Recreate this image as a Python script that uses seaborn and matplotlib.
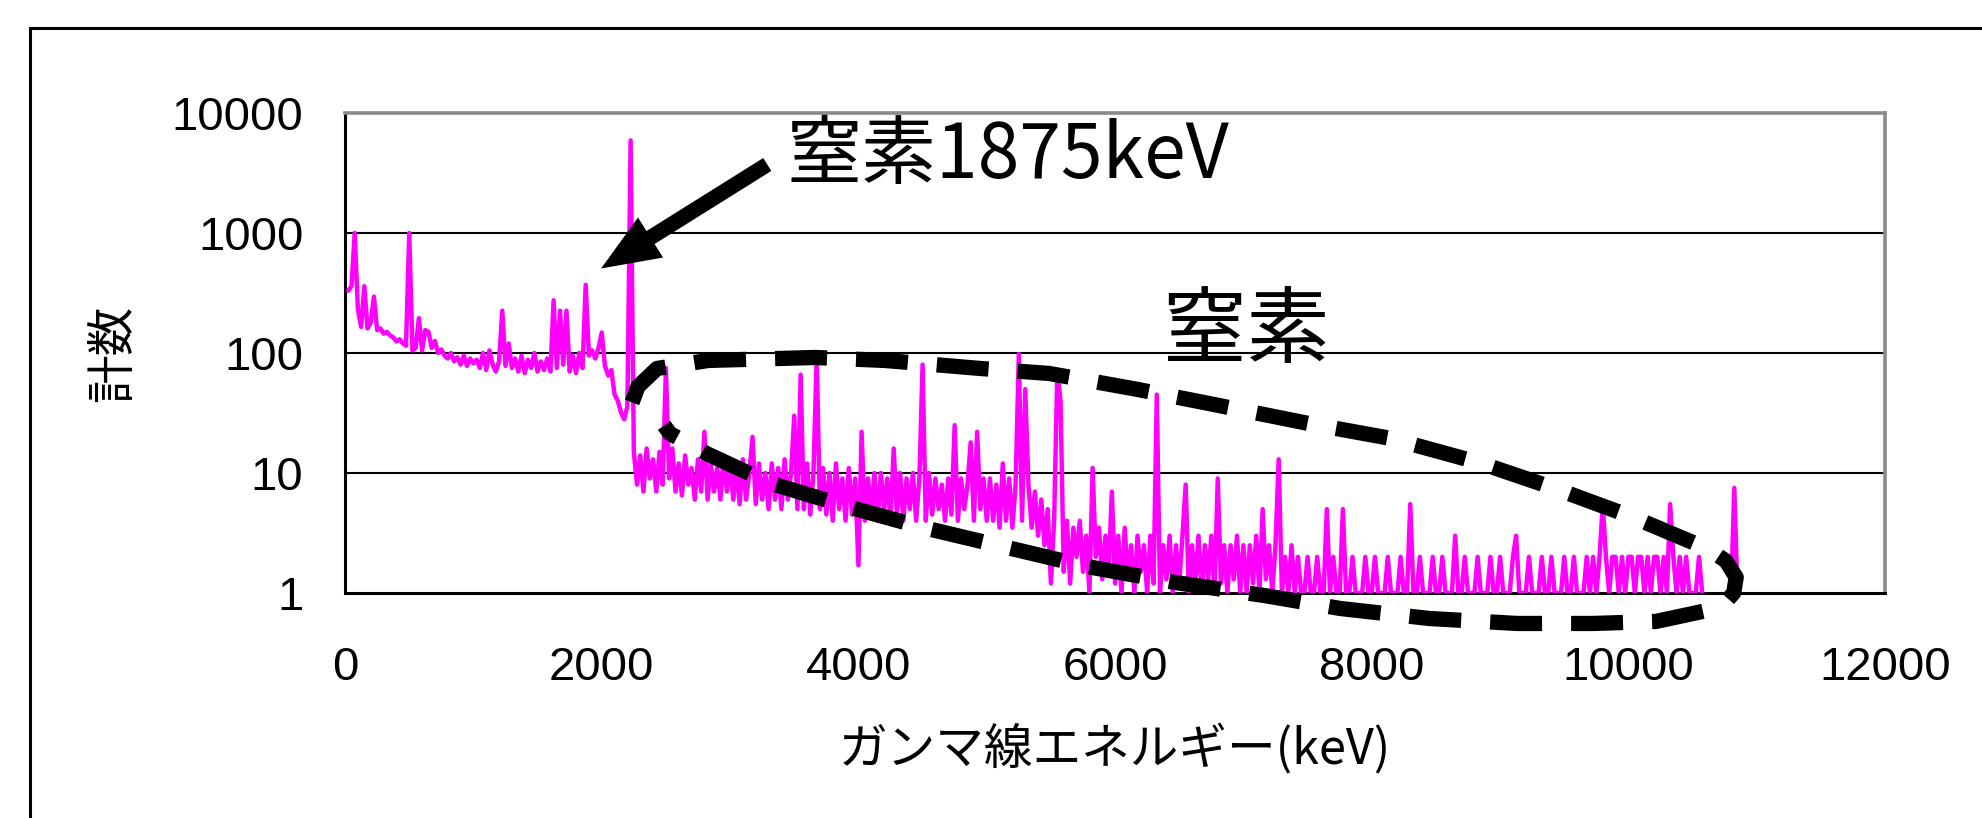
import numpy as np
import pandas as pd
import matplotlib
matplotlib.use("Agg")
import matplotlib.pyplot as plt
import seaborn as sns
from matplotlib.patches import Rectangle

nan = np.nan

# ---------------- data ----------------
channel_start_kev = 25
channel_width_kev = 25

counts = [
    # 25 .. 500 keV
    330, 360, 1000, 230, 165, 360, 160, 180, 295, 155, 160, 145, 150, 140, 135, 125, 130, 120, 115, 1000,
    # 525 .. 1000
    105, 110, 195, 105, 155, 150, 110, 126, 100, 107, 95, 90, 100, 85, 92, 80, 95, 78, 90, 82,
    # 1025 .. 1500
    88, 75, 100, 72, 105, 80, 70, 85, 225, 78, 120, 75, 90, 70, 95, 68, 88, 75, 100, 70,
    # 1525 .. 2000
    85, 72, 90, 70, 275, 75, 225, 80, 225, 70, 95, 68, 100, 75, 370, 95, 105, 90, 110, 148,
    # 2025 .. 2500
    78, 65, 72, 45, 40, 32, 28, 36, 5900, 15, 8, 14, 7, 16, 9, 13, 7, 15, 8, 75,
    # 2525 .. 3000
    9, 16, 7, 12, 6.5, 14, 8, 11, 6, 13, 7, 22, 6, 12, 7, 11, 6, 14, 7, 12,
    # 3025 .. 3500
    6, 11, 5.5, 13, 6, 10, 20, 5.5, 12, 6, 10, 5, 12, 6, 11, 5, 13, 6, 10, 30,
    # 3525 .. 4000
    5, 66, 5, 12, 4.5, 10, 95, 5, 11, 4.5, 10, 4, 12, 5, 9, 4, 11, 4.5, 9, 1.7,
    # 4025 .. 4500
    22, 4, 9, 4.5, 10, 4, 10, 5, 9, 4, 16, 4.5, 10, 4, 9, 5, 10, 4, 9, 80,
    # 4525 .. 5000
    4, 10, 4.5, 9, 5, 8, 4, 9, 4.5, 25, 4, 9, 5, 8, 18, 4, 22, 5, 9, 4,
    # 5025 .. 5500
    9, 4, 8, 3.5, 12, 4, 9, 3.5, 8, 98, 4, 50, 8, 3.5, 7, 3, 6, 2.5, 5, 1.2,
    # 5525 .. 6000
    4, 70, 40, 1.5, 4, 1.2, 3.5, 2, 4, 1.5, 3, 1, 11, 2, 3.5, 1.3, 3, 1.5, 7, 1.2,
    # 6025 .. 6500
    3, 1, 3.5, 1.3, 2.5, 1, 3, 1.5, 2.5, 1, 3, 1.2, 45, 1, 2.5, 1.3, 3, 1, 2.5, 1.2,
    # 6525 .. 7000
    3, 8, 1, 2.5, 1.2, 3, 1, 2.5, 1.3, 3, 1, 9, 1.2, 2.5, 1, 2.5, 1.3, 3, 1, 2.5,
    # 7025 .. 7500
    1, 2.5, 1.2, 3, 1, 5, 1.3, 2.5, 1, 2.5, 13, 1, 2, 1, 2.5, 1, 2, 1, 1, 2,
    # 7525 .. 8000
    1, 1, 2, 1, 1, 5, 1, 2, 1, 1, 5, 1, 1, 2, 1, 1, 1, 2, 1, 1,
    # 8025 .. 8500
    2, 1, 1, 1, 2, 1, 1, 1, 2, 1, 1, 5.5, 1, 1, 2, 1, 1, 1, 2, 1,
    # 8525 .. 9000
    1, 2, 1, 1, 1, 3, 1, 1, 2, 1, 1, 1, 2, 1, 1, 1, 2, 1, 1, 2,
    # 9025 .. 9500
    1, 1, 1, 2, 3, 1, 1, 1, 2, 1, 1, 1, 2, 1, 1, 2, 1, 1, 1, 2,
    # 9525 .. 10000
    1, 1, 2, 1, 1, 1, 2, 1, 2, 1, 2, 5.5, 2, 1, 2, 2, 1, 2, 1, 2,
    # 10025 .. 10500
    2, 1, 2, 2, 1, 2, 1, 2, 2, 1, 2, 1, 5.5, 2, 1, 2, 1, 2, 1, 1,
    # 10525 .. 10850
    1, 2, 1, nan, nan, nan, nan, nan, nan, nan, nan, 1, 7.5, 1,
]

# hand-drawn dashed outline around the nitrogen region (keV, counts)
outline_kev = [2236, 2283, 2431, 2829, 3662, 4208, 4948, 5486, 6179, 6771, 7504,
               8150, 8836, 9428, 10021, 10613, 10760, 10840, 10820, 10740, 10613,
               10215, 9724, 9132, 8447, 7753, 7161, 6475, 5782, 5189, 4504, 3912,
               3319, 2829, 2532, 2486]
outline_counts = [38.7, 52.6, 74.3, 86.6, 91.7, 86.6, 74.3, 67.5, 49.6, 37.2, 25.9,
                  19.4, 12.2, 7.43, 4.34, 2.35, 1.85, 1.35, 1.0, 0.8, 0.715,
                  0.579, 0.557, 0.557, 0.613, 0.743, 0.953, 1.22, 1.66, 2.35, 3.51,
                  5.26, 8.18, 14.3, 21.3, 24.9]

# arrow pointing at the 1875 keV line (keV, counts)
arrow_tip = (1995, 506)
arrow_tail = (3290, 3720)

peak_label = "窒素1875keV"
peak_label_pos = (3436, 4300)
region_label = "窒素"
region_label_pos = (7021, 151)

x_label = "ガンマ線エネルギー(keV)"
y_label = "計数"
x_ticks = [0, 2000, 4000, 6000, 8000, 10000, 12000]
y_ticks = [1, 10, 100, 1000, 10000]
y_tick_labels = ["1", "10", "100", "1000", "10000"]

# ---------------- figure ----------------
sns.set_theme(style="white")
plt.rcParams["font.family"] = ["Liberation Sans", "Noto Sans CJK JP", "DejaVu Sans"]
cjk = ["Noto Sans CJK JP", "DejaVu Sans"]

fig = plt.figure(figsize=(19.82, 8.18), dpi=100)
fig.patch.set_facecolor("white")
ax = fig.add_axes([0.1741, 0.2751, 0.9511 - 0.1741, 0.8619 - 0.2751])

energy_kev = channel_start_kev + channel_width_kev * np.arange(len(counts))
df = pd.DataFrame({"energy": energy_kev, "counts": counts})
df["segment"] = df["counts"].isna().cumsum()
df = df.dropna()

sns.lineplot(data=df, x="energy", y="counts", units="segment", estimator=None,
             sort=False, color="#FF00FF", linewidth=3.2, ax=ax, legend=False,
             zorder=3)

ax.set_yscale("log")
ax.set_xlim(0, 12000)
ax.set_ylim(1, 10000)
ax.set_xticks(x_ticks)
ax.set_xticklabels([str(t) for t in x_ticks])
ax.set_yticks(y_ticks)
ax.set_yticklabels(y_tick_labels)
ax.minorticks_off()
ax.yaxis.set_minor_locator(matplotlib.ticker.NullLocator())

ax.grid(False)
for yv in y_ticks[1:-1]:
    ax.axhline(yv, color="black", lw=1.5, zorder=1)

for side in ("left", "bottom"):
    ax.spines[side].set_color("black")
    ax.spines[side].set_linewidth(2.2)
for side in ("top", "right"):
    ax.spines[side].set_color("#8a8a8a")
    ax.spines[side].set_linewidth(2.6)

ax.tick_params(axis="x", direction="in", length=9, width=1.6, color="black",
               labelsize=34, pad=38, labelcolor="black", top=False)
ax.tick_params(axis="y", direction="in", length=9, width=1.6, color="black",
               labelsize=34, pad=30, labelcolor="black", right=False)

ax.set_xlabel(x_label, fontsize=35, family=cjk, labelpad=24, color="black")
ax.set_ylabel(y_label, fontsize=35, family=cjk, labelpad=24, color="black")

# dashed outline
ax.plot(outline_kev, outline_counts, color="black", lw=11,
        dashes=(3.4, 1.9), solid_capstyle="butt", dash_capstyle="butt",
        dash_joinstyle="round", zorder=5, clip_on=False)

# arrow + labels
ax.annotate("", xy=arrow_tip, xytext=arrow_tail,
            arrowprops=dict(arrowstyle="simple,tail_width=11,head_width=34,head_length=42",
                            mutation_scale=1, fc="black", ec="black", lw=0,
                            shrinkA=0, shrinkB=0),
            annotation_clip=False, zorder=6)
ax.text(peak_label_pos[0], peak_label_pos[1], peak_label, fontsize=54, family=cjk,
        ha="left", va="center", color="black", zorder=6)
ax.text(region_label_pos[0], region_label_pos[1], region_label, fontsize=60, family=cjk,
        ha="center", va="center", color="black", zorder=6)

# outer chart frame (cropped at right and bottom)
fig.add_artist(Rectangle((30 / 1982, -0.5), 2.0, (818 - 28) / 818 + 0.5,
                         transform=fig.transFigure, fill=False, ec="black",
                         lw=2.2, clip_on=False))

fig.savefig("out.png", dpi=100, facecolor="white")
